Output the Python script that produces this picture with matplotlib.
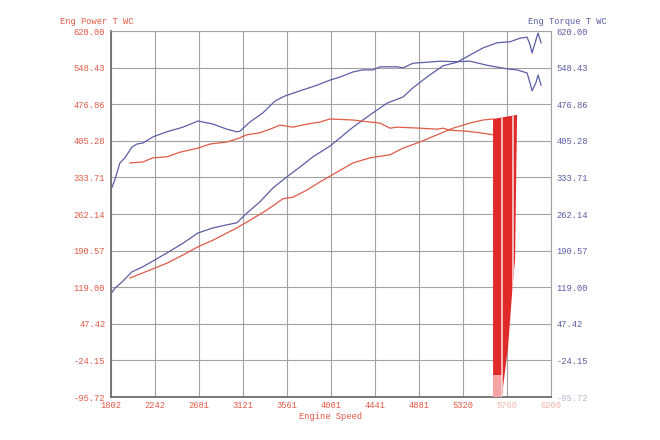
import matplotlib
matplotlib.use("Agg")
import matplotlib.pyplot as plt
import numpy as np

# y scale and ticks (same on both sides)
y_ticks = [-95.72, -24.15, 47.42, 119.00, 190.57, 262.14, 333.71, 405.28, 476.86, 548.43, 620.00]
x_ticks = [1802, 2242, 2681, 3121, 3561, 4001, 4441, 4881, 5320, 5760, 6200]

# blue traces (torque axis)
torque_a_rpm = [1802, 1842, 1892, 1942, 2012, 2062, 2122, 2222, 2362, 2522, 2672, 2822, 2961,
                3061, 3091, 3191, 3321, 3441, 3541, 3691, 3861, 3991, 4091, 4221, 4321, 4421,
                4491, 4661, 4721, 4820, 4960, 5090, 5260, 5390, 5560, 5760, 5860, 5960, 5990,
                6010, 6050, 6070, 6100]
torque_a_val = [309, 329, 362, 372, 393, 399, 401, 413, 423, 432, 444, 438, 428,
                423, 424, 442, 460, 483, 493, 503, 514, 524, 530, 540, 544, 544,
                550, 550, 548, 557, 559, 561, 560, 561, 553, 546, 544, 538, 518,
                503, 520, 534, 514]

torque_b_rpm = [1802, 1842, 1912, 2012, 2122, 2362, 2522, 2672, 2822, 2961, 3061, 3161, 3291,
                3421, 3561, 3691, 3821, 3991, 4221, 4391, 4561, 4721, 4820, 4960, 5120, 5260,
                5390, 5520, 5660, 5790, 5890, 5960, 5990, 6010, 6040, 6070, 6100]
torque_b_val = [106, 117, 129, 149, 159, 186, 205, 225, 235, 241, 245, 264, 286,
                313, 335, 354, 374, 395, 432, 456, 479, 491, 509, 530, 552, 559,
                573, 587, 597, 599, 606, 608, 593, 577, 597, 616, 597]

# red traces (power axis)
power_a_rpm = [1992, 2122, 2222, 2362, 2492, 2672, 2792, 2961, 3061, 3161, 3291, 3391, 3491,
               3621, 3761, 3891, 3991, 4221, 4391, 4491, 4591, 4661, 4890, 5060, 5120, 5190,
               5360, 5490, 5620]
power_a_val = [362, 364, 372, 374, 383, 391, 399, 403, 409, 417, 421, 428, 436,
               432, 438, 442, 448, 446, 442, 440, 430, 432, 430, 428, 430, 426,
               424, 421, 417]

power_b_rpm = [1992, 2122, 2362, 2522, 2672, 2822, 2961, 3061, 3191, 3361, 3521, 3621, 3761,
               3891, 4061, 4221, 4391, 4591, 4721, 4890, 5060, 5220, 5390, 5520, 5620]
power_b_val = [137, 147, 166, 182, 198, 211, 225, 235, 250, 270, 292, 295, 309,
               325, 344, 362, 372, 378, 391, 403, 417, 430, 440, 446, 448]

# the run-down burst at the end of the power pull
burst_rpm = [5620, 5860, 5840, 5820, 5770, 5720, 5710, 5620]
burst_val = [448, 456, 172, 133, 2, -76, -95.72, -95.72]
burst_gaps = [5710, 5820]

RED = "#e05a46"
BLUE = "#5c5ea6"
GRID = "#a2a2a2"
FS = 6.3

plt.rcParams["font.family"] = ["Liberation Mono", "DejaVu Sans Mono"]

fig = plt.figure(figsize=(6.6, 4.4), dpi=100)
ax = fig.add_axes([0.168, 0.0977, 0.667, 0.8318])

ax.plot(torque_a_rpm, torque_a_val, color=BLUE, lw=0.9)
ax.plot(torque_b_rpm, torque_b_val, color=BLUE, lw=0.9)
ax.plot(power_a_rpm, power_a_val, color=RED, lw=0.9)
ax.plot(power_b_rpm, power_b_val, color=RED, lw=0.9)

burst = ax.fill(burst_rpm, burst_val, color="#e02a2a", lw=0, zorder=3)[0]
pale = ax.fill_between([5620, 5710], -95.72, -52.7, color="#f4a4a4", lw=0, zorder=4)
pale.set_clip_path(burst)
gaps = ax.vlines(burst_gaps, -95.72, 470, color="#fbe0e0", lw=1.1, zorder=5)
gaps.set_clip_path(burst)

ax.set_xlim(1802, 6200)
ax.set_ylim(-95.72, 620)
ax.set_xticks(x_ticks)
ax.set_xticklabels([str(v) for v in x_ticks])
ax.set_yticks(y_ticks)
ax.set_yticklabels([f"{v:.2f}" for v in y_ticks])
ax.grid(True, color=GRID, lw=0.8)
ax.set_axisbelow(True)
ax.tick_params(length=0, labelsize=FS, pad=4)
ax.tick_params(axis="x", colors=RED, pad=3)
ax.tick_params(axis="y", colors=RED)
for lab in ax.get_xticklabels()[-2:]:
    lab.set_alpha(0.45)

for side in ["top", "right"]:
    ax.spines[side].set_color(GRID)
    ax.spines[side].set_linewidth(0.8)
for side in ["left", "bottom"]:
    ax.spines[side].set_color("#6e6e6e")
    ax.spines[side].set_linewidth(1.3)

ax2 = ax.twinx()
ax2.set_ylim(-95.72, 620)
ax2.set_yticks(y_ticks)
ax2.set_yticklabels([f"{v:.2f}" for v in y_ticks])
ax2.tick_params(length=0, labelsize=FS, pad=4, colors=BLUE)
ax2.get_yticklabels()[0].set_alpha(0.45)
for s in ax2.spines.values():
    s.set_visible(False)

ax.set_xlabel("Engine Speed", color=RED, fontsize=FS, labelpad=1)
fig.text(0.091, 0.95, "Eng Power T WC", color=RED, fontsize=FS, ha="left", va="center")
fig.text(0.80, 0.95, "Eng Torque T WC", color=BLUE, fontsize=FS, ha="left", va="center")

fig.savefig("out.png", dpi=100)
